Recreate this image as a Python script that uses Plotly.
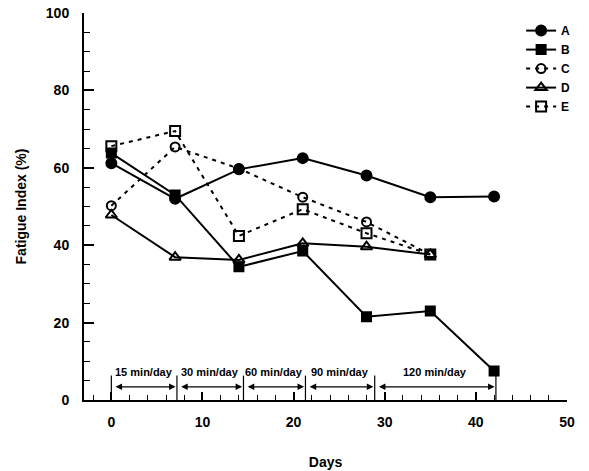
import plotly.graph_objects as go

days = [0, 7, 14, 21, 28, 35, 42]
A = [61.2, 52.0, 59.6, 62.5, 58.0, 52.4, 52.6]
B = [63.8, 53.0, 34.4, 38.5, 21.5, 23.0, 7.5]
C = [50.2, 65.4, 59.8, 52.4, 46.0, 37.6]
D = [47.8, 36.9, 36.2, 40.5, 39.6, 37.6]
E = [65.6, 69.5, 42.4, 49.3, 43.1, 37.6]

period_bounds = [0, 7.2, 14.5, 21.3, 28.9, 42.2]
period_labels = ["15 min/day", "30 min/day", "60 min/day", "90 min/day", "120 min/day"]

FONT = "Liberation Sans, Arial, Helvetica, sans-serif"

series = [
    ("A", days, A, "circle", "solid", 10),
    ("B", days, B, "square", "solid", 9),
    ("C", days[:6], C, "circle-open", "4px,5px", 9),
    ("D", days[:6], D, "triangle-up-open", "solid", 10),
    ("E", days[:6], E, "square-open", "4px,5px", 10),
]

fig = go.Figure()
for name, x, y, sym, dash, size in series:
    fig.add_trace(go.Scatter(
        x=x, y=y, name=f"<b>{name}</b>", mode="lines+markers",
        line=dict(color="black", width=2, dash=dash),
        marker=dict(symbol=sym, size=size, color="black",
                    line=dict(color="black", width=2)),
    ))

# period brackets
for b in period_bounds:
    fig.add_shape(type="line", x0=b, x1=b, y0=0, y1=6.3, xref="x", yref="y",
                  line=dict(color="black", width=1.2))
for i, lab in enumerate(period_labels):
    x0, x1 = period_bounds[i], period_bounds[i + 1]
    fig.add_annotation(x=x1 - 0.15, y=3.4, ax=x0 + 0.3, ay=3.4, xref="x", yref="y",
                       axref="x", ayref="y", text="", showarrow=True,
                       arrowhead=2, startarrowhead=2, arrowside="end+start",
                       arrowsize=1, arrowwidth=1.3, arrowcolor="black")
    fig.add_annotation(x=(x0 + x1) / 2, y=7.3, xref="x", yref="y", text=f"<b>{lab}</b>",
                       showarrow=False, font=dict(family=FONT, size=11, color="black"))

fig.update_layout(
    template="none",
    width=589, height=471,
    margin=dict(l=84, r=22, t=13, b=71),
    plot_bgcolor="white", paper_bgcolor="white",
    font=dict(family=FONT, size=14, color="black"),
    showlegend=True,
    legend=dict(x=0.905, y=0.992, xanchor="left", yanchor="top",
                bgcolor="rgba(0,0,0,0)", font=dict(family=FONT, size=12, color="black"),
                tracegroupgap=0, itemsizing="trace"),
)
fig.update_xaxes(
    range=[-3, 50], dtick=10, tick0=0, showgrid=False, zeroline=False,
    showline=True, linecolor="black", linewidth=2,
    ticks="inside", ticklen=8, tickwidth=1.5, tickcolor="black",
    minor=dict(dtick=2, tick0=0, ticks="inside", ticklen=5, tickwidth=1.2, tickcolor="black", showgrid=False),
    tickfont=dict(family=FONT, size=14, color="black"),
    tickprefix="<b>", ticksuffix="</b>",
    title=dict(text="<b>Days</b>", font=dict(family=FONT, size=14, color="black"), standoff=28),
    ticklabelstandoff=8,
)
fig.update_yaxes(
    range=[0, 100], dtick=20, showgrid=False, zeroline=False,
    showline=True, linecolor="black", linewidth=2,
    ticks="inside", ticklen=10, tickwidth=1.5, tickcolor="black",
    minor=dict(dtick=5, ticks="inside", ticklen=6, tickwidth=1.2, tickcolor="black", showgrid=False),
    tickfont=dict(family=FONT, size=14, color="black"),
    tickprefix="<b>", ticksuffix="</b>",
    title=dict(text="<b>Fatigue Index (%)</b>", font=dict(family=FONT, size=14, color="black"), standoff=16),
    ticklabelstandoff=10,
)

fig.write_html("out.html")
